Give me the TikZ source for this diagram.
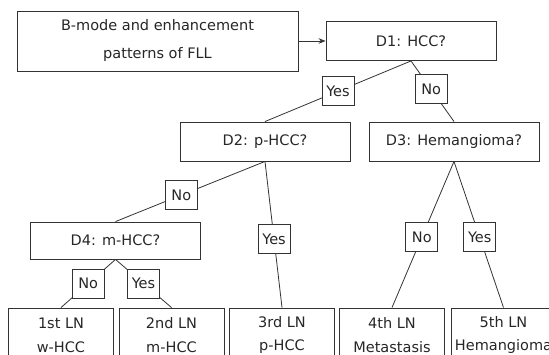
\documentclass[tikz,border=0pt]{standalone}
\usepackage{fontspec}
\setmainfont{DejaVu Sans}
\usepackage{tikz}
\usetikzlibrary{arrows.meta}

\begin{document}
\begin{tikzpicture}[
    x=1pt, y=-1pt,
    >={Stealth[length=7pt, width=5.5pt]},
    font=\fontsize{14.5}{24}\selectfont,
    inbox/.style={draw=black!80, line width=0.9pt, align=center, minimum width=281pt, minimum height=60pt, text=black!85, font=\fontsize{14.5}{28}\selectfont},
    qbox/.style={draw=black!80, line width=0.9pt, align=center, minimum width=170pt, minimum height=39pt, text=black!85},
    lnbox/.style={draw=black!80, line width=0.9pt, align=center, minimum width=105pt, minimum height=54pt, text=black!85},
    ans/.style={draw=black!80, line width=0.9pt, fill=white, inner sep=2pt, minimum width=32pt, minimum height=29pt, text=black!85},
    link/.style={draw=black!80, line width=0.8pt}
]
\useasboundingbox (0,0) rectangle (549,355);
\clip (0,0) rectangle (549,355);

% input and questions
\node[inbox] (fll) at (157.5,41) {B-mode and enhancement\\patterns of FLL};
\node[qbox] (d1) at (411,41) {D1: HCC?};
\node[qbox] (d2) at (265,141.5) {D2: p-HCC?};
\node[qbox] (d3) at (454,141.5) {D3: Hemangioma?};
\node[qbox, minimum height=37pt] (d4) at (115.5,240.5) {D4: m-HCC?};

% leaf nodes
\node[lnbox] (ln1) at (61,335) {1st LN\\w-HCC};
\node[lnbox] (ln2) at (171.5,335) {2nd LN\\m-HCC};
\node[lnbox] (ln3) at (282,335) {3rd LN\\p-HCC};
\node[lnbox] (ln4) at (392,335) {4th LN\\Metastasis};
\node[lnbox] (ln5) at (503.5,335) {5th LN\\Hemangioma};

\draw[->, draw=black!80, line width=0.9pt] (fll.east) -- (d1.west);

\path[link] (d1.south) -- node[ans, pos=0.5] (y1) {Yes} (d2.north);
\path[link] (d1.south) -- node[ans, pos=0.47] (n1) {No} (d3.north);
\path[link] (d2.south) -- node[ans, pos=0.56] (n2) {No} (d4.north);
\path[link] (d2.south) -- node[ans, pos=0.53] (y2) {Yes} (ln3.north);
\path[link] (d3.south) -- node[ans, pos=0.52] (n3) {No} (ln4.north);
\path[link] (d3.south) -- node[ans, pos=0.52] (y3) {Yes} (ln5.north);
\path[link] (d4.south) -- node[ans, pos=0.5] (n4) {No} (ln1.north);
\path[link] (d4.south) -- node[ans, pos=0.5] (y4) {Yes} (ln2.north);

\end{tikzpicture}
\end{document}
